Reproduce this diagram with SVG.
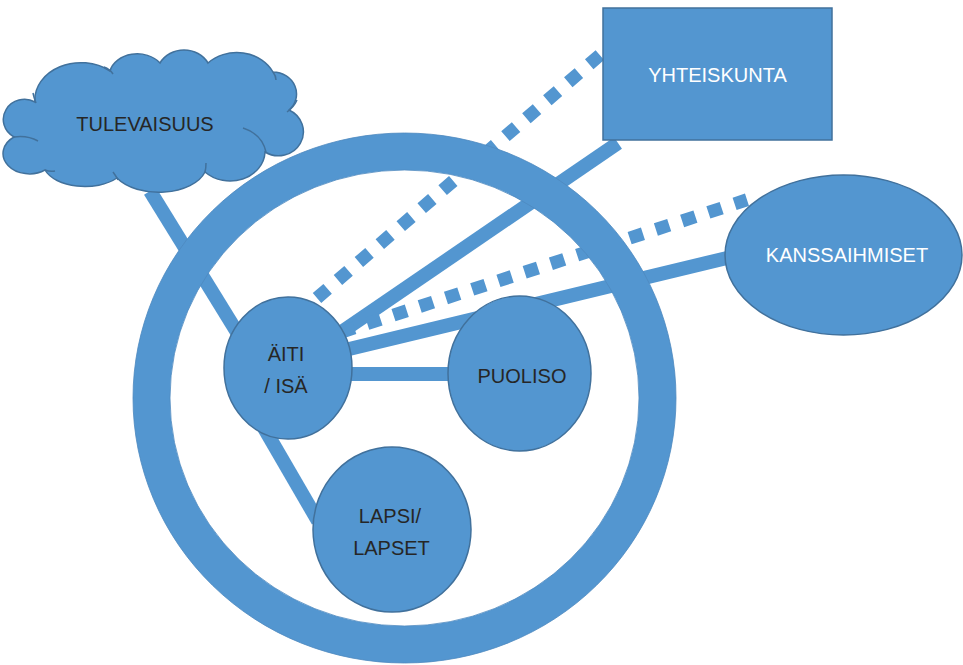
<svg xmlns="http://www.w3.org/2000/svg" width="963" height="665" viewBox="0 0 963 665">
<style>
.n{fill:#5396D0;stroke:#41719C;stroke-width:1.5}
.c{stroke:#5396D0;stroke-width:14;fill:none}
.d{stroke:#5396D0;stroke-width:13;fill:none;stroke-dasharray:14 13.6}
.t{font-family:"Liberation Sans",Arial,sans-serif;font-size:20px;text-anchor:middle;fill:#262626}
.w{fill:#ffffff}
.tick{fill:none;stroke:#41719C;stroke-width:1.5}
</style>
<rect width="963" height="665" fill="#ffffff"/>
<g id="connectors">
<line class="c" x1="150" y1="191" x2="240" y2="337"/>
<line class="c" x1="264" y1="428" x2="318" y2="521" stroke-width="13"/>
<line class="c" x1="340" y1="374" x2="452" y2="374"/>
<line class="c" x1="340" y1="333" x2="618" y2="143"/>
<line class="c" x1="345" y1="350" x2="727" y2="258"/>
<line class="d" x1="317" y1="298" x2="600" y2="55"/>
<line class="d" x1="341" y1="332.2" x2="747" y2="199.8"/>
</g>
<g id="ring">
<ellipse cx="404.5" cy="398" rx="253" ry="246.5" fill="none" stroke="#5396D0" stroke-width="37"/>
<ellipse cx="404.5" cy="398" rx="271.5" ry="265" fill="none" stroke="#4E89BF" stroke-width="0.8"/>
<ellipse cx="404.5" cy="398" rx="234.5" ry="228" fill="none" stroke="#4E89BF" stroke-width="0.8"/>
</g>
<g id="tulevaisuus">
<path class="n" d="M35,102 A46 37 0 0 1 110,71 A28 22 0 0 1 160,63 A27 24 0 0 1 208,63 A40 34 0 0 1 273,72 A24 22 0 0 1 289,110 A25 24 0 1 1 265,152 A35 30 0 0 1 205,172 A48 28 0 0 1 117,178 A42 24 0 0 1 45,170 A26 20 0 0 1 14,137 A20 19 0 0 1 35,102 Z"/>
<path class="tick" d="M14,137 Q27,135 38,141"/>
<path class="tick" d="M243,128 Q262,134 266,152"/>
<path class="tick" d="M104,67 Q110,69 113,74"/>
<path class="tick" d="M273,72 Q276,76 276,80"/>
<path class="tick" d="M297,100 Q294,107 287,112"/>
<path class="tick" d="M205,172 Q206,168 206,163"/>
<path class="tick" d="M113,172 Q116,176 118,180"/>
<path class="tick" d="M45,170 Q50,172 55,171"/>
<path class="tick" d="M33,93 Q34,98 36,103"/>
<text class="t" x="145" y="131">TULEVAISUUS</text>
</g>
<g id="yhteiskunta">
<rect class="n" x="603" y="8" width="229" height="132"/>
<text class="t w" x="717.5" y="82">YHTEISKUNTA</text>
</g>
<g id="kanssaihmiset">
<ellipse class="n" cx="843.5" cy="255" rx="118.5" ry="80"/>
<text class="t w" x="847" y="262">KANSSAIHMISET</text>
</g>
<g id="aiti-isa">
<ellipse class="n" cx="288" cy="368" rx="64" ry="71"/>
<text class="t" x="286" y="361">ÄITI</text>
<text class="t" x="286" y="393">/ ISÄ</text>
</g>
<g id="puoliso">
<ellipse class="n" cx="519.5" cy="373.5" rx="71.5" ry="77.5"/>
<text class="t" x="522" y="383">PUOLISO</text>
</g>
<g id="lapsi">
<ellipse class="n" cx="392" cy="529.5" rx="79" ry="82.5"/>
<text class="t" x="390" y="523">LAPSI/</text>
<text class="t" x="391.5" y="555">LAPSET</text>
</g>
</svg>
